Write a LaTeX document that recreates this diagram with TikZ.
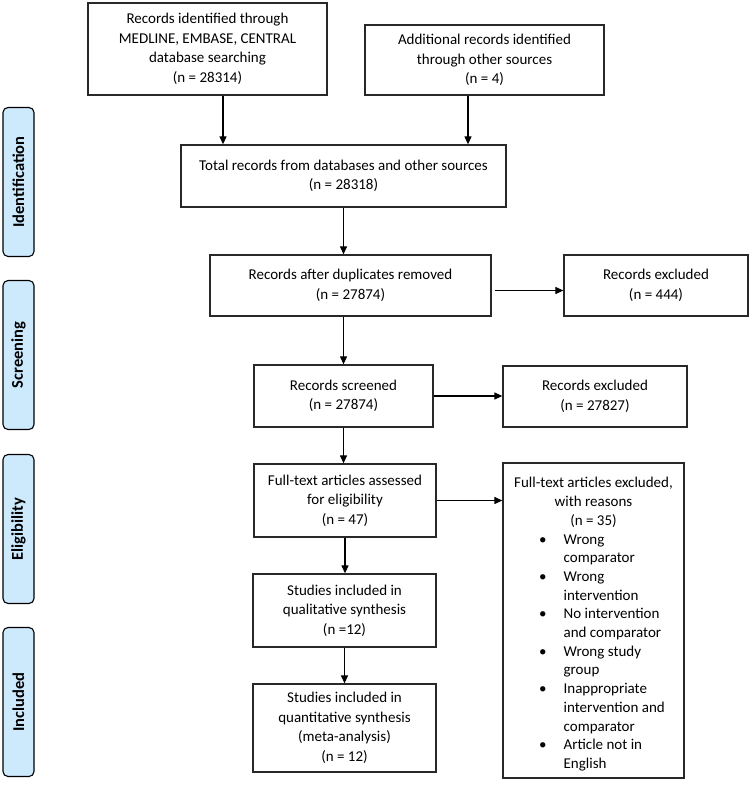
\documentclass[tikz,border=0pt]{standalone}
\usepackage{fontspec}
\setmainfont{Carlito}
\usepackage{tikz}
\usetikzlibrary{arrows.meta}
\definecolor{phaseblue}{RGB}{205,233,252}
\definecolor{boxline}{RGB}{40,40,40}

\begin{document}
\begin{tikzpicture}[x=1pt, y=-1pt,
	box/.style={draw=boxline, line width=1.3pt, align=center, inner sep=2pt, font=\fontsize{15}{19.5}\selectfont},
	phase/.style={draw=black, line width=1.1pt, fill=phaseblue, rounded corners=5pt, rotate=90, minimum width=149pt, minimum height=31pt, inner sep=0pt, font=\fontsize{16.5}{18}\selectfont\bfseries},
	arr/.style={-{Triangle[length=8pt,width=7pt]}, line width=1.2pt}]
	\useasboundingbox (0,0) rectangle (750,786);
	% phase labels on the left
	\foreach \lbl/\yc in {Identification/182, Screening/355, Eligibility/529, Included/702}
	    \node[phase] (\lbl) at (18.5,\yc) {\lbl};
	% main column
	\node[box, minimum width=239pt, minimum height=92pt] (rec1) at (207.5,49) {Records identified through\\ MEDLINE, EMBASE, CENTRAL\\ database searching\\ (n = 28314)};
	\node[box, minimum width=239pt, minimum height=70pt] (rec2) at (484.5,60) {Additional records identified\\ through other sources\\ (n = 4)};
	\node[box, minimum width=325pt, minimum height=62pt] (total) at (343.5,176) {Total records from databases and other sources\\ (n = 28318)};
	\node[box, minimum width=281pt, minimum height=61pt] (dup) at (350.5,285.5) {Records after duplicates removed\\ (n = 27874)};
	\node[box, minimum width=179pt, minimum height=62pt] (screened) at (343.5,396) {Records screened\\ (n = 27874)};
	\node[box, minimum width=182pt, minimum height=73pt] (fulltext) at (345,500.5) {Full-text articles assessed\\ for eligibility\\ (n = 47)};
	\node[box, minimum width=183pt, minimum height=73pt] (qual) at (344.5,610.5) {Studies included in\\ qualitative synthesis\\ (n =12)};
	\node[box, minimum width=183pt, minimum height=88pt] (quant) at (344.5,728) {Studies included in\\ quantitative synthesis\\ (meta-analysis)\\ (n = 12)};
	% exclusions
	\node[box, minimum width=184pt, minimum height=61pt] (excl1) at (656,285.5) {Records excluded\\ (n = 444)};
	\node[box, minimum width=184pt, minimum height=61pt] (excl2) at (595,396.5) {Records excluded\\ (n = 27827)};
	\node[box, minimum width=181pt, minimum height=315pt, font=\fontsize{15}{18.7}\selectfont] (exclft) at (593.5,620.5) {\rule{0pt}{21pt}Full-text articles excluded,\\ with reasons\\ (n = 35)\\
	    \hspace*{17pt}\begin{tabular}[t]{@{}p{24.5pt}@{}l@{}}
	        \textbullet & Wrong\\ & comparator\\
	        \textbullet & Wrong\\ & intervention\\
	        \textbullet & No intervention\\ & and comparator\\
	        \textbullet & Wrong study\\ & group\\
	        \textbullet & Inappropriate\\ & intervention and\\ & comparator\\
	        \textbullet & Article not in\\ & English
	    \end{tabular}};
	% connectors
	\draw[arr] ([xshift=15.5pt]rec1.south) -- ([xshift=15.5pt]rec1.south |- total.north);
	\draw[arr] ([xshift=-16.5pt]rec2.south) -- ([xshift=-16.5pt]rec2.south |- total.north);
	\draw[arr] (total.south) -- (total.south |- dup.north);
	\draw[arr] (screened.north |- dup.south) -- (screened.north);
	\draw[arr] (screened.south) -- (screened.south |- fulltext.north);
	\draw[arr] (fulltext.south) -- (fulltext.south |- qual.north);
	\draw[arr] (qual.south) -- (qual.south |- quant.north);
	\draw[arr] ([xshift=3pt,yshift=-5pt]dup.east) -- ([yshift=-5pt]excl1.west);
	\draw[arr] (screened.east) -- (screened.east -| excl2.west);
	\draw[arr] (fulltext.east) -- (fulltext.east -| exclft.west);
\end{tikzpicture}
\end{document}
